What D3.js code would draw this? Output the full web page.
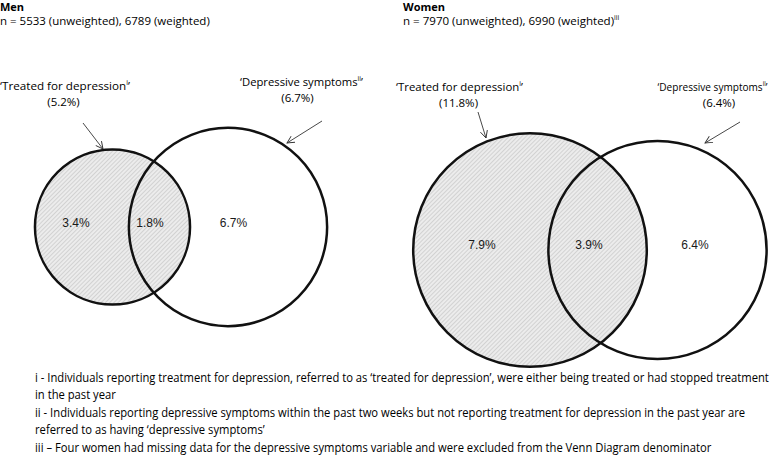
<!DOCTYPE html>
<html><head><meta charset="utf-8">
<script src="https://cdn.jsdelivr.net/npm/d3@7"></script>
<style>body{margin:0;background:#fff} svg{display:block}</style>
</head><body><svg id="c" width="783" height="458"></svg>
<script>
// ---- data ----
const groups = ["Men", "Women"];
const sampleText = ["n = 5533 (unweighted), 6789 (weighted)", "n = 7970 (unweighted), 6990 (weighted)"];
const sampleSup = ["", "iii"];
const setNames = ["Treated for depression", "Depressive symptoms"];
const setSups = ["i", "ii"];
const treatedTotal = [5.2, 11.8];
const symptomsLabel = [6.7, 6.4];
const treatedOnly = [3.4, 7.9];
const bothPct = [1.8, 3.9];
const symptomsOnly = [6.7, 6.4];
const footnotes = [
  "i - Individuals reporting treatment for depression, referred to as \u2018treated for depression\u2019, were either being treated or had stopped treatment",
  "in the past year",
  "ii - Individuals reporting depressive symptoms within the past two weeks but not reporting treatment for depression in the past year are",
  "referred to as having \u2018depressive symptoms\u2019",
  "iii \u2013 Four women had missing data for the depressive symptoms variable  and were excluded from the Venn Diagram denominator"
];

// ---- layout ----
const layout = [
  { titleX: 0, cx1: 112.5, d: 115.5, cy: 227,
    tl: {x: 65, y: 90, w: 130}, tp: {x: 63.5, y: 106},
    ta: [[83, 123], [103, 149]],
    sl: {x: 301.5, y: 86, w: 123}, sp: {x: 297.5, y: 102},
    sa: [[322, 121], [287, 143]],
    off: [-36.5, 37.5, 5.5], ty: 227, nW: 210 },
  { titleX: 403, cx1: 530, d: 127.5, cy: 250,
    tl: {x: 459.5, y: 91, w: 127}, tp: {x: 458.5, y: 107},
    ta: [[478, 112], [486, 138]],
    sl: {x: 712.5, y: 90.5, w: 110}, sp: {x: 719, y: 106.5},
    sa: [[740, 122], [705, 143]],
    off: [-48, 59, 37.5], ty: 249, nW: 217 }
];

const FONT = "'Open Sans', Lato, 'Liberation Sans', sans-serif";
const svg = d3.select("#c");
const defs = svg.append("defs");
const pat = defs.append("pattern").attr("id", "hatch").attr("patternUnits", "userSpaceOnUse")
  .attr("width", 3).attr("height", 3).attr("patternTransform", "rotate(45)");
pat.append("rect").attr("width", 3).attr("height", 3).attr("fill", "#ececec");
pat.append("line").attr("x1", 0).attr("y1", 0).attr("x2", 0).attr("y2", 3)
  .attr("stroke", "#b8b8b8").attr("stroke-width", 1);

defs.append("marker").attr("id", "arr").attr("viewBox", "0 0 10 10").attr("refX", 9).attr("refY", 5)
  .attr("markerWidth", 9).attr("markerHeight", 9).attr("markerUnits", "userSpaceOnUse").attr("orient", "auto")
  .append("path").attr("d", "M1,1 L9,5 L1,9").attr("fill", "none").attr("stroke", "#333").attr("stroke-width", 1);

function place(x, y, parts, size, anchor, width, weight) {
  const g = svg.append("g").attr("transform", `translate(${x},${y})`);
  const t = g.append("text").attr("font-family", FONT).attr("font-size", size)
    .attr("text-anchor", anchor).attr("font-weight", weight || "normal").attr("fill", "#000");
  let shifted = false;
  parts.forEach(p => {
    if (p.sup) {
      t.append("tspan").attr("font-size", size * 0.6).attr("dy", -size * 0.4).text(p.t);
      shifted = true;
    } else {
      t.append("tspan").attr("dy", shifted ? size * 0.4 : 0).text(p.t);
      shifted = false;
    }
  });
  if (width) {
    const bw = t.node().getBBox().width;
    t.attr("transform", `scale(${width / bw},1)`);
  }
  return t;
}

const r = d3.scaleSqrt().domain([0, 12]).range([0, 34 * Math.sqrt(12)]);
const fmt = v => d3.format(".1f")(v) + "%";

groups.forEach((gname, i) => {
  const L = layout[i];
  place(L.titleX, 11, [{t: gname}], 11, "start", null, "bold");
  const np = [{t: sampleText[i]}];
  if (sampleSup[i]) np.push({t: sampleSup[i], sup: true});
  place(L.titleX, 25, np, 11.5, "start", L.nW);

  const r1 = r(treatedTotal[i]);
  const r2 = r(symptomsOnly[i] + bothPct[i]);
  const cx2 = L.cx1 + L.d;

  svg.append("circle").attr("cx", L.cx1).attr("cy", L.cy).attr("r", r1)
    .attr("fill", "url(#hatch)").attr("stroke", "#111").attr("stroke-width", 2.5);
  svg.append("circle").attr("cx", cx2).attr("cy", L.cy).attr("r", r2)
    .attr("fill", "none").attr("stroke", "#111").attr("stroke-width", 2.5);

  const vals = [treatedOnly[i], bothPct[i], symptomsOnly[i]];
  const xs = [L.cx1 + L.off[0], L.cx1 + L.off[1], cx2 + L.off[2]];
  vals.forEach((v, k) => {
    svg.append("text").attr("x", xs[k]).attr("y", L.ty).attr("text-anchor", "middle")
      .attr("font-family", "'Liberation Sans', Arial, sans-serif").attr("font-size", 12)
      .attr("fill", "#1a1a1a").text(fmt(v));
  });

  place(L.tl.x, L.tl.y, [{t: "\u2018" + setNames[0]}, {t: setSups[0], sup: true}, {t: "\u2019"}], 11.5, "middle", L.tl.w);
  place(L.tp.x, L.tp.y, [{t: "(" + fmt(treatedTotal[i]) + ")"}], 11.5, "middle", null);
  place(L.sl.x, L.sl.y, [{t: "\u2018" + setNames[1]}, {t: setSups[1], sup: true}, {t: "\u2019"}], 11.5, "middle", L.sl.w);
  place(L.sp.x, L.sp.y, [{t: "(" + fmt(symptomsLabel[i]) + ")"}], 11.5, "middle", null);

  [L.ta, L.sa].forEach(a => {
    svg.append("line").attr("x1", a[0][0]).attr("y1", a[0][1]).attr("x2", a[1][0]).attr("y2", a[1][1])
      .attr("stroke", "#333").attr("stroke-width", 0.9).attr("marker-end", "url(#arr)");
  });
});

// footnotes
const fnG = svg.append("g");
let factor = 1;
footnotes.forEach((f, k) => {
  const t = fnG.append("text").attr("x", 0).attr("y", 0).attr("font-family", FONT).attr("font-size", 12)
    .attr("fill", "#000").text(f);
  const bw = t.node().getComputedTextLength();
  if (k === 0) factor = 735 / bw;
  t.attr("transform", `translate(35,${381.5 + k * 17.5}) scale(${factor},1)`);
});
</script></body></html>
